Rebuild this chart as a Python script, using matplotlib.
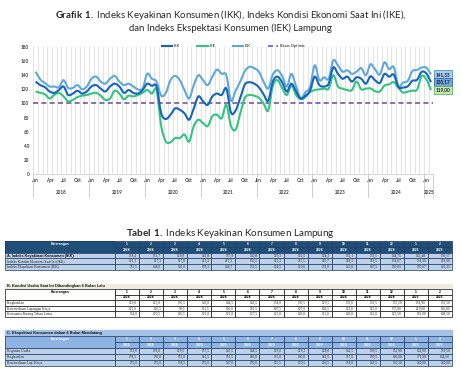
import numpy as np
import matplotlib.pyplot as plt
import matplotlib.transforms as mtransforms
from matplotlib.path import Path
from matplotlib.patches import PathPatch, Rectangle
from matplotlib.lines import Line2D
from matplotlib.table import Table

plt.rcParams['font.family'] = ['Lato', 'DejaVu Sans']
plt.rcParams['mathtext.fontset'] = 'custom'
plt.rcParams['mathtext.rm'] = 'Lato'
plt.rcParams['mathtext.bf'] = 'Lato:bold'

# Monthly series, Jan 2018 - Feb 2025
iek = [145, 134, 129, 124, 124, 123, 133, 122, 122, 126, 120, 124,
       135, 138, 131, 128, 135, 139, 131, 126, 128, 124, 120, 121,
       142, 135, 131, 111, 115, 133, 139, 133, 119, 107, 126, 140,
       133, 126, 138, 148, 142, 140, 104, 118, 131, 146, 152, 150,
       145, 131, 121, 141, 147, 139, 124, 142, 124, 107, 116, 123,
       154, 133, 137, 135, 161, 154, 145, 147, 142, 145, 150, 140,
       155.5, 148.0, 141.0, 158.3, 148.7, 151.5, 124.5, 129.6, 132.0, 145.8, 147.5, 150.83,
       150.67, 141.33]
ikk = [131, 126, 123, 117, 115, 119, 124, 112, 114, 118, 114, 117,
       124, 126, 121, 117, 124, 128, 124, 115, 119, 115, 114, 119,
       128, 125, 124, 86, 78, 84, 93, 91, 86, 77, 93, 110,
       103, 98, 110, 114, 112, 121, 87, 90, 108, 127, 130, 128,
       123, 113, 104, 131, 138, 130, 117, 128, 117, 107, 111, 118,
       138, 126, 124, 128, 151, 142, 135, 138, 131, 137, 135, 128,
       138.4, 132.7, 129.0, 141.8, 137.9, 140.8, 123.3, 122.5, 124.3, 132.1, 133.5, 144.75,
       142.48, 130.17]
ike = [117, 115, 113, 107, 112, 115, 110, 103, 105, 109, 111, 112,
       114, 115, 111, 105, 107, 118, 114, 106, 111, 110, 112, 115,
       119, 114, 119, 68, 46, 45, 51, 51, 56, 46, 68, 77,
       72, 68, 82, 84, 79, 98, 68, 63, 86, 108, 112, 111,
       108, 100, 90, 125, 133, 122, 112, 126, 112, 106, 109, 116,
       119, 120, 121, 121, 140, 124, 121, 119, 119, 131, 120, 121,
       121.3, 117.3, 117.0, 125.2, 127.2, 130.2, 122.2, 115.5, 116.7, 118.3, 119.5, 138.67,
       134.30, 119.00]
batas_optimis = 100

tick_labels = (['Jan', 'Apr', 'Jul', 'Okt'] * 4 + ['Jan', 'Apr', 'Jul', 'Oct']
               + ['Jan', 'Apr', 'Jul', 'Okt'] * 2 + ['Jan'])
year_labels = ['2018', '2019', '2020', '2021', '2022', '2023', '2024', '2025']

# Table 1
bulan = ['1', '2', '3', '4', '5', '6', '7', '8', '9', '10', '11', '12', '1', '2']
tahun = ['2024'] * 12 + ['2025'] * 2

a_labels = ['A. Indeks Keyakinan Konsumen (IKK)',
            'Indeks Kondisi Ekonomi Saat Ini (IKE)',
            'Indeks Ekspektasi Konsumen (IEK)']

b_title = 'B. Kondisi Usaha Saat Ini Dibandingkan 6 Bulan Lalu'
b_labels = ['Penghasilan', 'Ketersediaan Lapangan Kerja', 'Konsumsi Barang Tahan Lama']
b_penghasilan = [129.0, 125.0, 136.5, 143.0, 144.5, 143.5, 134.0, 130.5, 129.5, 133.0, 131.5, 155.50, 154.90, 132.50]
b_lapker = [121.0, 106.5, 98.0, 111.5, 116.0, 119.5, 107.5, 107.0, 109.5, 113.0, 115.0, 137.00, 129.00, 116.00]
b_konsumsi = [114.0, 120.5, 116.5, 121.0, 121.0, 127.5, 125.0, 109.0, 111.0, 109.0, 112.0, 123.50, 119.00, 108.50]

c_title = 'C. Ekspektasi Konsumen dalam 6 Bulan Mendatang'
c_labels = ['Kegiatan Usaha', 'Penghasilan', 'Ketersediaan Lap. Kerja']
c_usaha = [153.0, 139.0, 129.5, 157.5, 145.5, 144.5, 123.0, 129.2, 128.0, 142.5, 139.5, 151.00, 141.00, 139.50]
c_penghasilan = [158.5, 150.0, 155.0, 162.5, 153.5, 160.0, 135.0, 130.0, 141.5, 157.0, 159.5, 166.00, 171.00, 144.50]
c_lapker = [155.0, 155.0, 138.5, 155.0, 147.0, 150.0, 115.5, 129.5, 126.5, 138.0, 143.5, 135.50, 140.00, 140.00]

W, H = 461, 380
fig = plt.figure(figsize=(W / 100, H / 100), dpi=100)


def fx(px):
    return px / W


def fy(py):
    return 1 - py / H


def smooth_path(x, y):
    # Catmull-Rom style bezier through every point (like Excel "smoothed line")
    x = np.asarray(x, float)
    y = np.asarray(y, float)
    n = len(x)
    verts = [(x[0], y[0])]
    codes = [Path.MOVETO]
    for i in range(n - 1):
        p0 = max(i - 1, 0)
        p3 = min(i + 2, n - 1)
        c1 = (x[i] + (x[i + 1] - x[p0]) / 6, y[i] + (y[i + 1] - y[p0]) / 6)
        c2 = (x[i + 1] - (x[p3] - x[i]) / 6, y[i + 1] - (y[p3] - y[i]) / 6)
        verts += [c1, c2, (x[i + 1], y[i + 1])]
        codes += [Path.CURVE4] * 3
    return Path(verts, codes)


def fmt(v, nd=2):
    return f'{v:.{nd}f}'.replace('.', ',')


# ---------------- titles ----------------
fig.text(0.5, fy(15), r'$\mathbf{Grafik\ 1.}$ Indeks Keyakinan Konsumen (IKK), Indeks Kondisi Ekonomi Saat Ini (IKE),',
         ha='center', va='center', fontsize=6.9, color='#262626')
fig.text(0.5, fy(28), 'dan Indeks Ekspektasi Konsumen (IEK) Lampung',
         ha='center', va='center', fontsize=6.9, color='#262626')

# ---------------- chart ----------------
ax = fig.add_axes([fx(33.3), fy(174), 400 / W, 127 / H])
x = np.arange(len(ikk))
ax.set_xlim(-0.5, len(ikk) - 0.5)
ax.set_ylim(0, 180)

col_ikk, col_ike, col_iek, col_bo = '#1565c0', '#33c481', '#5fa8dc', '#8064a2'

ax.set_xticks(np.arange(-0.5, len(ikk), 1), minor=True)
ax.grid(which='minor', axis='x', color='#dedede', lw=0.6)
ax.tick_params(which='minor', length=0)
ax.set_axisbelow(True)

ax.axhline(batas_optimis, color=col_bo, lw=1.3, ls=(0, (2.8, 1.8)), zorder=2)
for ser, col in [(iek, col_iek), (ike, col_ike), (ikk, col_ikk)]:
    ax.add_patch(PathPatch(smooth_path(x, ser), fc='none', ec=col, lw=1.5, zorder=3))

ax.set_yticks(range(0, 181, 20))
ax.set_xticks(np.arange(0, len(ikk), 3))
ax.set_xticklabels(tick_labels)
ax.tick_params(axis='both', length=0, labelsize=3.3, labelcolor='#404040')
ax.tick_params(axis='x', pad=3)
ax.tick_params(axis='y', pad=3)
for lab in ax.get_xticklabels() + ax.get_yticklabels():
    lab.set_fontweight('bold')
for s in ['top', 'right', 'left']:
    ax.spines[s].set_visible(False)
ax.spines['bottom'].set_color('#d0d0d0')
ax.spines['bottom'].set_linewidth(0.6)

trans = mtransforms.blended_transform_factory(ax.transData, ax.transAxes)
bounds = list(np.arange(-0.5, len(ikk), 12)) + [len(ikk) - 0.5]
for b in bounds:
    ax.plot([b, b], [0, -0.18], transform=trans, color='#c8c8c8', lw=0.6, clip_on=False)
for k, yl in enumerate(year_labels):
    lo = bounds[k]
    hi = bounds[k + 1]
    ax.text((lo + hi) / 2, -0.142, yl, transform=trans, ha='center', va='center',
            fontsize=3.3, fontweight='bold', color='#404040')

handles = [Line2D([], [], color=col_ikk, lw=1.5), Line2D([], [], color=col_ike, lw=1.5),
           Line2D([], [], color=col_iek, lw=1.5), Line2D([], [], color=col_bo, lw=1.3, ls=(0, (2.8, 1.8)))]
leg = ax.legend(handles, ['IKK', 'IKE', 'IEK', 'Batas Optimis'], loc='center',
                bbox_to_anchor=(0.5, 1.008), ncol=4, frameon=False, fontsize=2.8,
                handlelength=2.6, handletextpad=0.5, columnspacing=4.5)
for t in leg.get_texts():
    t.set_color('#404040')
    t.set_fontweight('bold')

for val, fc, ec in [(iek[-1], '#a9cbec', '#4f8fd0'), (ikk[-1], '#6fa6de', '#2d6db8'),
                    (ike[-1], '#c6e6b4', '#5cb85c')]:
    ax.annotate(fmt(val), xy=(x[-1], val), xytext=(3.4, 0), textcoords='offset points',
                ha='left', va='center', fontsize=3.3, fontweight='bold', color='#1f1f1f',
                bbox=dict(boxstyle='square,pad=0.3', fc=fc, ec=ec, lw=0.6),
                annotation_clip=False)

# ---------------- table ----------------
fig.text(0.5, fy(233), r'$\mathbf{Tabel\ 1.}$ Indeks Keyakinan Konsumen Lampung',
         ha='center', va='center', fontsize=7.1, color='#262626')

tab_ax = fig.add_axes([0, 0, 1, 1], zorder=-1)
tab_ax.axis('off')
tab_ax.set_xlim(0, 1)
tab_ax.set_ylim(0, 1)

first_w = 110
val_w = 337 / 14


def style(cell, size, family, weight='normal', color='black'):
    t = cell.get_text()
    t.set_fontsize(size)
    t.set_fontfamily(family)
    t.set_fontweight(weight)
    t.set_color(color)


def band(top, height, text, fc):
    tb = Table(tab_ax, bbox=[fx(5), fy(top + height), 447 / W, height / H])
    c = tb.add_cell(0, 0, width=1, height=1, text=text, loc='left', facecolor=fc, edgecolor=fc)
    c.PAD = 0.004
    style(c, 2.8, 'Liberation Sans', 'bold', '#111111')
    tb.auto_set_font_size(False)
    tab_ax.add_table(tb)


def table(top, row_h, labels, rows, head_fc, head_tc, body_fc, edge, bold_first=False):
    n = 2 + len(rows)
    tb = Table(tab_ax, bbox=[fx(5), fy(top + n * row_h), 447 / W, n * row_h / H])
    tb.auto_set_font_size(False)
    tb.set_zorder(3)
    # background of the merged "Keterangan" header cell
    tab_ax.add_patch(Rectangle((fx(5), fy(top + 2 * row_h)), first_w / W, 2 * row_h / H,
                               fc=head_fc, ec='none', zorder=1))
    heads = [['Keterangan'] + bulan, [''] + tahun]
    for r, hrow in enumerate(heads):
        for c, txt in enumerate(hrow):
            w = first_w if c == 0 else val_w
            cell = tb.add_cell(r, c, width=w, height=row_h, text=txt, loc='center',
                               facecolor=head_fc, edgecolor=edge)
            cell.set_linewidth(0.5)
            style(cell, 2.4, 'Liberation Sans', 'bold', head_tc)
            if c == 0:
                cell.visible_edges = 'LTR' if r == 0 else 'LBR'
                cell.set_facecolor('none')
    for i, (lab, vals) in enumerate(zip(labels, rows)):
        r = i + 2
        cell = tb.add_cell(r, 0, width=first_w, height=row_h, text=lab, loc='left',
                           facecolor=body_fc, edgecolor=edge)
        cell.PAD = 0.02
        cell.set_linewidth(0.5)
        if bold_first and i == 0:
            style(cell, 2.7, 'Liberation Sans', 'bold', '#111111')
        else:
            style(cell, 2.6, 'Liberation Serif', 'normal', '#222222')
        for j, v in enumerate(vals):
            cell = tb.add_cell(r, j + 1, width=val_w, height=row_h, text=fmt(v, 1 if j < 11 else 2),
                               loc='right', facecolor=body_fc, edgecolor=edge)
            cell.PAD = 0.08
            cell.set_linewidth(0.5)
            style(cell, 2.6, 'Liberation Serif', 'normal', '#222222')
    tab_ax.add_table(tb)


table(241, 5.8, a_labels, [ikk[-14:], ike[-14:], iek[-14:]],
      '#1f4e79', 'white', '#bdd1ea', '#1f3864', bold_first=True)
band(284, 5, b_title, '#eeece1')
table(289, 5.6, b_labels, [b_penghasilan, b_lapker, b_konsumsi],
      'white', 'black', 'white', '#111111')
band(330, 5.5, c_title, '#a3c2e6')
table(336, 6, c_labels, [c_usaha, c_penghasilan, c_lapker],
      '#8eb4e3', 'white', '#bdd1ea', '#1f3864')

fig.savefig('out.png', dpi=100)
